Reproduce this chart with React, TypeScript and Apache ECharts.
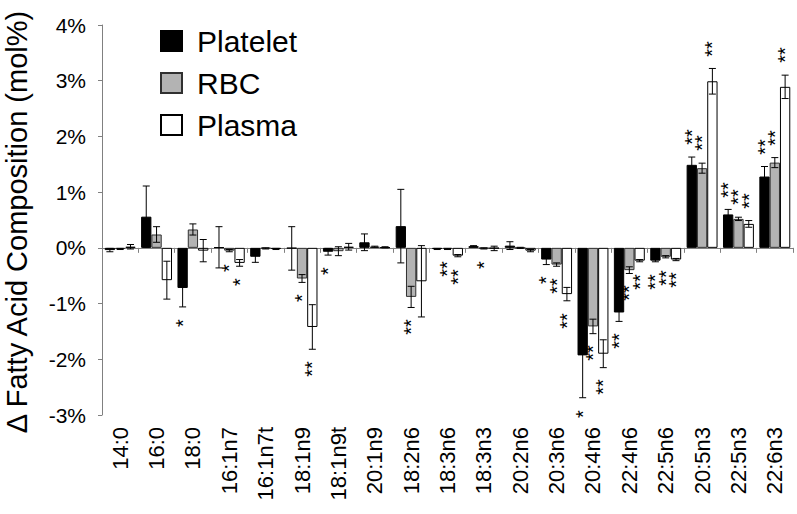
import React, { useEffect, useRef } from "react";
import * as echarts from "echarts";

const categories = ["14:0", "16:0", "18:0", "16:1n7", "16:1n7t", "18:1n9", "18:1n9t", "20:1n9", "18:2n6", "18:3n6", "18:3n3", "20:2n6", "20:3n6", "20:4n6", "22:4n6", "22:5n6", "20:5n3", "22:5n3", "22:6n3"];

const seriesNames = ["Platelet", "RBC", "Plasma"];

const plateletValues = [-0.04, 0.56, -0.72, 0.01, -0.16, -0.01, -0.07, 0.10, 0.39, -0.02, 0.03, 0.04, -0.21, -1.93, -1.16, -0.23, 1.49, 0.60, 1.28];
const plateletErrors = [0.03, 0.55, 0.34, 0.37, 0.10, 0.39, 0.06, 0.15, 0.66, 0.01, 0.01, 0.07, 0.09, 0.76, 0.16, 0.02, 0.14, 0.09, 0.18];
const plateletStars = ["", "", "*", "", "", "", "*", "", "", "", "", "", "*", "*", "**", "**", "**", "**", "**"];

const rbcValues = [-0.02, 0.24, 0.33, -0.05, -0.01, -0.55, -0.06, 0.02, -0.88, -0.02, -0.01, 0.00, -0.30, -1.41, -0.40, -0.16, 1.43, 0.52, 1.53];
const rbcErrors = [0.01, 0.14, 0.10, 0.02, 0.01, 0.07, 0.08, 0.01, 0.19, 0.01, 0.01, 0.01, 0.03, 0.13, 0.06, 0.02, 0.09, 0.03, 0.09];
const rbcStars = ["", "", "", "*", "", "*", "", "", "**", "**", "*", "", "**", "**", "**", "**", "**", "**", "**"];

const plasmaValues = [0.02, -0.58, -0.05, -0.27, -0.02, -1.42, 0.02, 0.01, -0.60, -0.14, -0.01, -0.05, -0.83, -1.90, -0.23, -0.21, 2.99, 0.43, 2.89];
const plasmaErrors = [0.04, 0.34, 0.20, 0.06, 0.01, 0.40, 0.06, 0.01, 0.64, 0.02, 0.04, 0.02, 0.12, 0.25, 0.02, 0.02, 0.23, 0.06, 0.21];
const plasmaStars = ["", "", "", "*", "", "**", "", "", "", "**", "", "", "**", "**", "**", "**", "**", "**", "**"];

const yTicks = [-3, -2, -1, 0, 1, 2, 3, 4];

const FONT = "'Liberation Sans', Arial, Helvetica, sans-serif";

export default function App() {
  const ref = useRef<HTMLDivElement>(null);

  useEffect(() => {
    if (!ref.current) return;
    const chart = echarts.init(ref.current, null, { renderer: "svg" });

    const values = [plateletValues, rbcValues, plasmaValues];
    const errors = [plateletErrors, rbcErrors, plasmaErrors];
    const stars = [plateletStars, rbcStars, plasmaStars];
    const fills = ["#000000", "#b3b3b3", "#ffffff"];
    const borders = ["#000000", "#303030", "#000000"];
    const catGap = 0.15;

    const barSeries = seriesNames.map((name, g) => ({
      name,
      type: "bar",
      xAxisIndex: 0,
      yAxisIndex: 0,
      data: values[g],
      barGap: "0%",
      barCategoryGap: catGap * 100 + "%",
      itemStyle: { color: fills[g], borderColor: borders[g], borderWidth: 1 },
      z: 2,
    }));

    const errSeries = seriesNames.map((name, g) => ({
      name: name + " error",
      type: "custom",
      xAxisIndex: 0,
      yAxisIndex: 0,
      z: 5,
      clip: false,
      itemStyle: { color: "#000000" },
      data: categories.map((_, i) => [i, values[g][i], errors[g][i]]),
      encode: { x: 0, y: 1 },
      renderItem: (params: any, api: any) => {
        const idx = api.value(0);
        const v = api.value(1);
        const e = api.value(2);
        const c = api.coord([idx, v]);
        const band = api.size([1, 0])[0];
        const bw = (band * (1 - catGap)) / 3;
        const x = c[0] + (g - 1) * bw;
        const yHi = api.coord([idx, v + e])[1];
        const yLo = api.coord([idx, v - e])[1];
        const cap = 3.5;
        const ls = { stroke: "#000", lineWidth: 1 };
        const children: any[] = [
          { type: "line", shape: { x1: x, y1: yHi, x2: x, y2: yLo }, style: ls },
          { type: "line", shape: { x1: x - cap, y1: yHi, x2: x + cap, y2: yHi }, style: ls },
          { type: "line", shape: { x1: x - cap, y1: yLo, x2: x + cap, y2: yLo }, style: ls },
        ];
        const s = stars[g][params.dataIndex];
        if (s) {
          const d = 12 + s.length * 3.9;
          const ty = v >= 0 ? yHi - d : yLo + d;
          children.push({
            type: "text",
            x: Math.round(x),
            y: Math.round(ty),
            rotation: Math.PI / 2,
            style: {
              text: s,
              fill: "#000000",
              stroke: "none",
              lineWidth: 0,
              fontSize: 20,
              fontFamily: FONT,
              align: "center",
              verticalAlign: "middle",
            },
          });
        }
        return { type: "group", children };
      },
    }));

    chart.setOption({
      animation: false,
      backgroundColor: "#ffffff",
      textStyle: { fontFamily: FONT },
      grid: { left: 102, right: 4, top: 25, bottom: 99, containLabel: false },
      legend: {
        data: seriesNames,
        orient: "vertical",
        left: 155,
        top: 21,
        icon: "rect",
        itemWidth: 21,
        itemHeight: 20,
        itemGap: 12,
        selectedMode: false,
        textStyle: { fontSize: 30, color: "#000", fontFamily: FONT, padding: [0, 0, 0, 10] },
      },
      xAxis: [
        {
          type: "category",
          data: categories,
          position: "bottom",
          boundaryGap: true,
          axisLine: { show: true, onZero: true, lineStyle: { color: "#808080", width: 1 } },
          axisTick: { show: true, length: 5, interval: 0, lineStyle: { color: "#808080" } },
          axisLabel: { show: false },
          splitLine: { show: false },
        },
        {
          type: "category",
          data: categories,
          position: "bottom",
          boundaryGap: true,
          axisLine: { show: false, onZero: false },
          axisTick: { show: false },
          axisLabel: {
            show: true,
            interval: 0,
            rotate: 90,
            margin: 12,
            fontSize: 22,
            color: "#000",
            fontFamily: FONT,
          },
          splitLine: { show: false },
        },
      ],
      yAxis: {
        type: "value",
        min: yTicks[0],
        max: yTicks[yTicks.length - 1],
        interval: 1,
        axisLine: { show: true, lineStyle: { color: "#808080", width: 1 } },
        axisTick: { show: true, length: 4, lineStyle: { color: "#808080" } },
        axisLabel: {
          fontSize: 21,
          color: "#000",
          margin: 16,
          fontFamily: FONT,
          formatter: (v: number) => v + "%",
        },
        splitLine: { show: false },
      },
      graphic: [
        {
          type: "text",
          x: 17,
          y: 222,
          rotation: Math.PI / 2,
          style: {
            text: "\u0394 Fatty Acid Composition (mol%)",
            fontSize: 29,
            fontFamily: FONT,
            fill: "#000",
            align: "center",
            verticalAlign: "middle",
          },
        },
      ],
      series: [...barSeries, ...errSeries],
    });

    return () => chart.dispose();
  }, []);

  return (
    <div
      ref={ref}
      style={{ position: "fixed", left: 0, top: 0, width: 797, height: 514, background: "#fff" }}
    />
  );
}
